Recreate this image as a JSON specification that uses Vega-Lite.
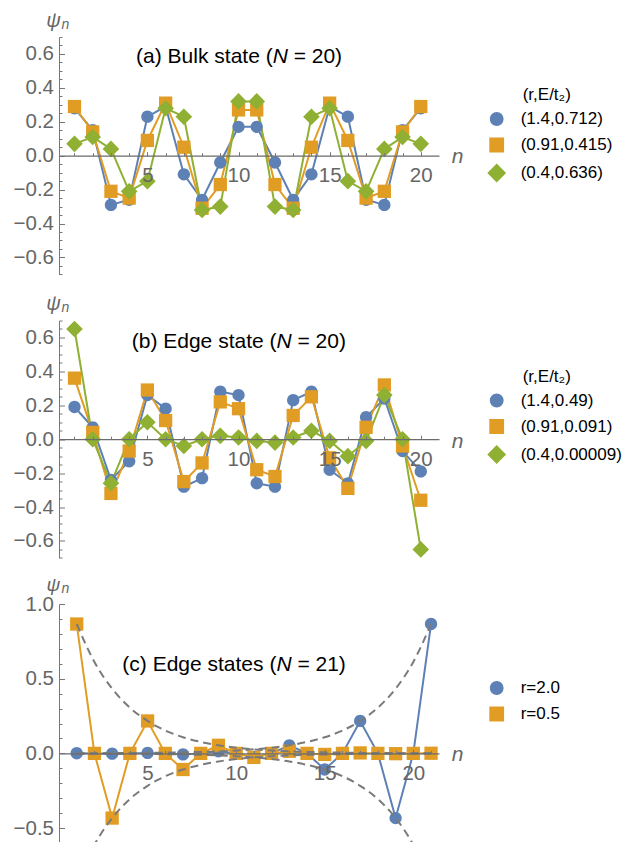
{
"$schema": "https://vega.github.io/schema/vega-lite/v6.json",
"padding": {"left": 13, "top": 10, "right": 175, "bottom": 0},
"bounds": "flush",
"spacing": 45.5,
"config": {"view": {"stroke": null}, "font": "Liberation Sans"},
"datasets": {
"a": [
{"n":1,"psi":0.28,"s":"(1.4,0.712)"},{"n":2,"psi":0.15,"s":"(1.4,0.712)"},{"n":3,"psi":-0.29,"s":"(1.4,0.712)"},{"n":4,"psi":-0.26,"s":"(1.4,0.712)"},{"n":5,"psi":0.23,"s":"(1.4,0.712)"},{"n":6,"psi":0.29,"s":"(1.4,0.712)"},{"n":7,"psi":-0.11,"s":"(1.4,0.712)"},{"n":8,"psi":-0.26,"s":"(1.4,0.712)"},{"n":9,"psi":-0.04,"s":"(1.4,0.712)"},{"n":10,"psi":0.17,"s":"(1.4,0.712)"},
{"n":11,"psi":0.17,"s":"(1.4,0.712)"},{"n":12,"psi":-0.04,"s":"(1.4,0.712)"},{"n":13,"psi":-0.26,"s":"(1.4,0.712)"},{"n":14,"psi":-0.11,"s":"(1.4,0.712)"},{"n":15,"psi":0.29,"s":"(1.4,0.712)"},{"n":16,"psi":0.23,"s":"(1.4,0.712)"},{"n":17,"psi":-0.26,"s":"(1.4,0.712)"},{"n":18,"psi":-0.29,"s":"(1.4,0.712)"},{"n":19,"psi":0.15,"s":"(1.4,0.712)"},{"n":20,"psi":0.28,"s":"(1.4,0.712)"},
{"n":1,"psi":0.29,"s":"(0.91,0.415)"},{"n":2,"psi":0.14,"s":"(0.91,0.415)"},{"n":3,"psi":-0.21,"s":"(0.91,0.415)"},{"n":4,"psi":-0.25,"s":"(0.91,0.415)"},{"n":5,"psi":0.09,"s":"(0.91,0.415)"},{"n":6,"psi":0.31,"s":"(0.91,0.415)"},{"n":7,"psi":0.05,"s":"(0.91,0.415)"},{"n":8,"psi":-0.31,"s":"(0.91,0.415)"},{"n":9,"psi":-0.17,"s":"(0.91,0.415)"},{"n":10,"psi":0.27,"s":"(0.91,0.415)"},
{"n":11,"psi":0.27,"s":"(0.91,0.415)"},{"n":12,"psi":-0.17,"s":"(0.91,0.415)"},{"n":13,"psi":-0.31,"s":"(0.91,0.415)"},{"n":14,"psi":0.05,"s":"(0.91,0.415)"},{"n":15,"psi":0.31,"s":"(0.91,0.415)"},{"n":16,"psi":0.09,"s":"(0.91,0.415)"},{"n":17,"psi":-0.25,"s":"(0.91,0.415)"},{"n":18,"psi":-0.21,"s":"(0.91,0.415)"},{"n":19,"psi":0.14,"s":"(0.91,0.415)"},{"n":20,"psi":0.29,"s":"(0.91,0.415)"},
{"n":1,"psi":0.07,"s":"(0.4,0.636)"},{"n":2,"psi":0.11,"s":"(0.4,0.636)"},{"n":3,"psi":0.04,"s":"(0.4,0.636)"},{"n":4,"psi":-0.21,"s":"(0.4,0.636)"},{"n":5,"psi":-0.15,"s":"(0.4,0.636)"},{"n":6,"psi":0.28,"s":"(0.4,0.636)"},{"n":7,"psi":0.23,"s":"(0.4,0.636)"},{"n":8,"psi":-0.32,"s":"(0.4,0.636)"},{"n":9,"psi":-0.3,"s":"(0.4,0.636)"},{"n":10,"psi":0.32,"s":"(0.4,0.636)"},
{"n":11,"psi":0.32,"s":"(0.4,0.636)"},{"n":12,"psi":-0.3,"s":"(0.4,0.636)"},{"n":13,"psi":-0.32,"s":"(0.4,0.636)"},{"n":14,"psi":0.23,"s":"(0.4,0.636)"},{"n":15,"psi":0.28,"s":"(0.4,0.636)"},{"n":16,"psi":-0.15,"s":"(0.4,0.636)"},{"n":17,"psi":-0.21,"s":"(0.4,0.636)"},{"n":18,"psi":0.04,"s":"(0.4,0.636)"},{"n":19,"psi":0.11,"s":"(0.4,0.636)"},{"n":20,"psi":0.07,"s":"(0.4,0.636)"}
],
"b": [
{"n":1,"psi":0.19,"s":"(1.4,0.49)"},{"n":2,"psi":0.07,"s":"(1.4,0.49)"},{"n":3,"psi":-0.24,"s":"(1.4,0.49)"},{"n":4,"psi":-0.13,"s":"(1.4,0.49)"},{"n":5,"psi":0.26,"s":"(1.4,0.49)"},{"n":6,"psi":0.18,"s":"(1.4,0.49)"},{"n":7,"psi":-0.28,"s":"(1.4,0.49)"},{"n":8,"psi":-0.23,"s":"(1.4,0.49)"},{"n":9,"psi":0.28,"s":"(1.4,0.49)"},{"n":10,"psi":0.26,"s":"(1.4,0.49)"},
{"n":11,"psi":-0.26,"s":"(1.4,0.49)"},{"n":12,"psi":-0.28,"s":"(1.4,0.49)"},{"n":13,"psi":0.23,"s":"(1.4,0.49)"},{"n":14,"psi":0.28,"s":"(1.4,0.49)"},{"n":15,"psi":-0.18,"s":"(1.4,0.49)"},{"n":16,"psi":-0.26,"s":"(1.4,0.49)"},{"n":17,"psi":0.13,"s":"(1.4,0.49)"},{"n":18,"psi":0.24,"s":"(1.4,0.49)"},{"n":19,"psi":-0.07,"s":"(1.4,0.49)"},{"n":20,"psi":-0.19,"s":"(1.4,0.49)"},
{"n":1,"psi":0.36,"s":"(0.91,0.091)"},{"n":2,"psi":0.04,"s":"(0.91,0.091)"},{"n":3,"psi":-0.32,"s":"(0.91,0.091)"},{"n":4,"psi":-0.07,"s":"(0.91,0.091)"},{"n":5,"psi":0.29,"s":"(0.91,0.091)"},{"n":6,"psi":0.11,"s":"(0.91,0.091)"},{"n":7,"psi":-0.25,"s":"(0.91,0.091)"},{"n":8,"psi":-0.14,"s":"(0.91,0.091)"},{"n":9,"psi":0.22,"s":"(0.91,0.091)"},{"n":10,"psi":0.18,"s":"(0.91,0.091)"},
{"n":11,"psi":-0.18,"s":"(0.91,0.091)"},{"n":12,"psi":-0.22,"s":"(0.91,0.091)"},{"n":13,"psi":0.14,"s":"(0.91,0.091)"},{"n":14,"psi":0.25,"s":"(0.91,0.091)"},{"n":15,"psi":-0.11,"s":"(0.91,0.091)"},{"n":16,"psi":-0.29,"s":"(0.91,0.091)"},{"n":17,"psi":0.07,"s":"(0.91,0.091)"},{"n":18,"psi":0.32,"s":"(0.91,0.091)"},{"n":19,"psi":-0.04,"s":"(0.91,0.091)"},{"n":20,"psi":-0.36,"s":"(0.91,0.091)"},
{"n":1,"psi":0.65,"s":"(0.4,0.00009)"},{"n":2,"psi":0.0,"s":"(0.4,0.00009)"},{"n":3,"psi":-0.26,"s":"(0.4,0.00009)"},{"n":4,"psi":0.0,"s":"(0.4,0.00009)"},{"n":5,"psi":0.1,"s":"(0.4,0.00009)"},{"n":6,"psi":0.0,"s":"(0.4,0.00009)"},{"n":7,"psi":-0.04,"s":"(0.4,0.00009)"},{"n":8,"psi":0.0,"s":"(0.4,0.00009)"},{"n":9,"psi":0.02,"s":"(0.4,0.00009)"},{"n":10,"psi":0.01,"s":"(0.4,0.00009)"},
{"n":11,"psi":-0.01,"s":"(0.4,0.00009)"},{"n":12,"psi":-0.02,"s":"(0.4,0.00009)"},{"n":13,"psi":0.01,"s":"(0.4,0.00009)"},{"n":14,"psi":0.05,"s":"(0.4,0.00009)"},{"n":15,"psi":-0.01,"s":"(0.4,0.00009)"},{"n":16,"psi":-0.1,"s":"(0.4,0.00009)"},{"n":17,"psi":-0.01,"s":"(0.4,0.00009)"},{"n":18,"psi":0.26,"s":"(0.4,0.00009)"},{"n":19,"psi":0.0,"s":"(0.4,0.00009)"},{"n":20,"psi":-0.65,"s":"(0.4,0.00009)"}
],
"c": [
{"n":1,"psi":0.001,"s":"r=2.0"},{"n":2,"psi":0,"s":"r=2.0"},{"n":3,"psi":-0.002,"s":"r=2.0"},{"n":4,"psi":0,"s":"r=2.0"},{"n":5,"psi":0.003,"s":"r=2.0"},{"n":6,"psi":0,"s":"r=2.0"},{"n":7,"psi":-0.007,"s":"r=2.0"},{"n":8,"psi":0,"s":"r=2.0"},{"n":9,"psi":0.014,"s":"r=2.0"},{"n":10,"psi":0,"s":"r=2.0"},{"n":11,"psi":-0.027,"s":"r=2.0"},
{"n":12,"psi":0,"s":"r=2.0"},{"n":13,"psi":0.054,"s":"r=2.0"},{"n":14,"psi":0,"s":"r=2.0"},{"n":15,"psi":-0.108,"s":"r=2.0"},{"n":16,"psi":0,"s":"r=2.0"},{"n":17,"psi":0.217,"s":"r=2.0"},{"n":18,"psi":0,"s":"r=2.0"},{"n":19,"psi":-0.433,"s":"r=2.0"},{"n":20,"psi":0,"s":"r=2.0"},{"n":21,"psi":0.866,"s":"r=2.0"},
{"n":1,"psi":0.866,"s":"r=0.5"},{"n":2,"psi":0,"s":"r=0.5"},{"n":3,"psi":-0.433,"s":"r=0.5"},{"n":4,"psi":0,"s":"r=0.5"},{"n":5,"psi":0.217,"s":"r=0.5"},{"n":6,"psi":0,"s":"r=0.5"},{"n":7,"psi":-0.108,"s":"r=0.5"},{"n":8,"psi":0,"s":"r=0.5"},{"n":9,"psi":0.054,"s":"r=0.5"},{"n":10,"psi":0,"s":"r=0.5"},{"n":11,"psi":-0.027,"s":"r=0.5"},
{"n":12,"psi":0,"s":"r=0.5"},{"n":13,"psi":0.014,"s":"r=0.5"},{"n":14,"psi":0,"s":"r=0.5"},{"n":15,"psi":-0.007,"s":"r=0.5"},{"n":16,"psi":0,"s":"r=0.5"},{"n":17,"psi":0.003,"s":"r=0.5"},{"n":18,"psi":0,"s":"r=0.5"},{"n":19,"psi":-0.002,"s":"r=0.5"},{"n":20,"psi":0,"s":"r=0.5"},{"n":21,"psi":0.001,"s":"r=0.5"}
],
"env": [
{"n":1,"psi":0.866,"curve":"UL"},{"n":2,"psi":0.612,"curve":"UL"},{"n":3,"psi":0.433,"curve":"UL"},{"n":4,"psi":0.306,"curve":"UL"},{"n":5,"psi":0.217,"curve":"UL"},{"n":6,"psi":0.153,"curve":"UL"},{"n":7,"psi":0.108,"curve":"UL"},{"n":8,"psi":0.077,"curve":"UL"},{"n":9,"psi":0.054,"curve":"UL"},{"n":10,"psi":0.038,"curve":"UL"},{"n":11,"psi":0.027,"curve":"UL"},{"n":12,"psi":0.019,"curve":"UL"},{"n":13,"psi":0.014,"curve":"UL"},{"n":14,"psi":0.01,"curve":"UL"},{"n":15,"psi":0.007,"curve":"UL"},{"n":16,"psi":0.005,"curve":"UL"},{"n":17,"psi":0.003,"curve":"UL"},{"n":18,"psi":0.002,"curve":"UL"},{"n":19,"psi":0.002,"curve":"UL"},{"n":20,"psi":0.001,"curve":"UL"},{"n":21,"psi":0.001,"curve":"UL"},
{"n":1,"psi":-0.866,"curve":"LL"},{"n":2,"psi":-0.612,"curve":"LL"},{"n":3,"psi":-0.433,"curve":"LL"},{"n":4,"psi":-0.306,"curve":"LL"},{"n":5,"psi":-0.217,"curve":"LL"},{"n":6,"psi":-0.153,"curve":"LL"},{"n":7,"psi":-0.108,"curve":"LL"},{"n":8,"psi":-0.077,"curve":"LL"},{"n":9,"psi":-0.054,"curve":"LL"},{"n":10,"psi":-0.038,"curve":"LL"},{"n":11,"psi":-0.027,"curve":"LL"},{"n":12,"psi":-0.019,"curve":"LL"},{"n":13,"psi":-0.014,"curve":"LL"},{"n":14,"psi":-0.01,"curve":"LL"},{"n":15,"psi":-0.007,"curve":"LL"},{"n":16,"psi":-0.005,"curve":"LL"},{"n":17,"psi":-0.003,"curve":"LL"},{"n":18,"psi":-0.002,"curve":"LL"},{"n":19,"psi":-0.002,"curve":"LL"},{"n":20,"psi":-0.001,"curve":"LL"},{"n":21,"psi":-0.001,"curve":"LL"},
{"n":1,"psi":0.001,"curve":"UR"},{"n":2,"psi":0.001,"curve":"UR"},{"n":3,"psi":0.002,"curve":"UR"},{"n":4,"psi":0.002,"curve":"UR"},{"n":5,"psi":0.003,"curve":"UR"},{"n":6,"psi":0.005,"curve":"UR"},{"n":7,"psi":0.007,"curve":"UR"},{"n":8,"psi":0.01,"curve":"UR"},{"n":9,"psi":0.014,"curve":"UR"},{"n":10,"psi":0.019,"curve":"UR"},{"n":11,"psi":0.027,"curve":"UR"},{"n":12,"psi":0.038,"curve":"UR"},{"n":13,"psi":0.054,"curve":"UR"},{"n":14,"psi":0.077,"curve":"UR"},{"n":15,"psi":0.108,"curve":"UR"},{"n":16,"psi":0.153,"curve":"UR"},{"n":17,"psi":0.217,"curve":"UR"},{"n":18,"psi":0.306,"curve":"UR"},{"n":19,"psi":0.433,"curve":"UR"},{"n":20,"psi":0.612,"curve":"UR"},{"n":21,"psi":0.866,"curve":"UR"},
{"n":1,"psi":-0.001,"curve":"LR"},{"n":2,"psi":-0.001,"curve":"LR"},{"n":3,"psi":-0.002,"curve":"LR"},{"n":4,"psi":-0.002,"curve":"LR"},{"n":5,"psi":-0.003,"curve":"LR"},{"n":6,"psi":-0.005,"curve":"LR"},{"n":7,"psi":-0.007,"curve":"LR"},{"n":8,"psi":-0.01,"curve":"LR"},{"n":9,"psi":-0.014,"curve":"LR"},{"n":10,"psi":-0.019,"curve":"LR"},{"n":11,"psi":-0.027,"curve":"LR"},{"n":12,"psi":-0.038,"curve":"LR"},{"n":13,"psi":-0.054,"curve":"LR"},{"n":14,"psi":-0.077,"curve":"LR"},{"n":15,"psi":-0.108,"curve":"LR"},{"n":16,"psi":-0.153,"curve":"LR"},{"n":17,"psi":-0.217,"curve":"LR"},{"n":18,"psi":-0.306,"curve":"LR"},{"n":19,"psi":-0.433,"curve":"LR"},{"n":20,"psi":-0.612,"curve":"LR"},{"n":21,"psi":-0.866,"curve":"LR"}
]
},
"resolve": {"scale": {"color": "independent", "shape": "independent", "x": "independent", "y": "independent"}, "legend": {"color": "independent", "shape": "independent"}},
"vconcat": [
{
"width": 380, "height": 237.4,
"resolve": {"axis": {"y": "independent", "x": "independent"}},
"layer": [
{"data": {"name": "a"}, "mark": {"type": "line", "strokeWidth": 2},
 "encoding": {
  "x": {"field": "n", "type": "quantitative", "scale": {"domain": [0.15, 21], "nice": false, "zero": false},
        "axis": {"orient": "bottom", "offset": -118.7, "values": [5, 10, 15, 20], "format": "d", "tickSize": -4, "tickColor": "#777777", "domainColor": "#6b6b6b", "domainWidth": 1.3, "labelColor": "#666666", "labelFont": "Liberation Sans", "labelFontSize": 20.5, "labelPadding": 14, "labelFlush": false, "labelOverlap": false, "grid": false, "zindex": 1,
                 "title": "n", "titleFont": "Liberation Sans", "titleFontSize": 21, "titleFontStyle": "italic", "titleFontWeight": "normal", "titleColor": "#666666", "titleAngle": 0, "titleAlign": "center", "titleBaseline": "middle", "titleX": 398, "titleY": 1}},
  "y": {"field": "psi", "type": "quantitative", "scale": {"domain": [-0.7, 0.7], "nice": false, "zero": false},
        "axis": {"orient": "left", "values": [-0.6,-0.4,-0.2,0,0.2,0.4,0.6], "format": ".1f", "tickSize": -5.5, "tickColor": "#777777", "domainColor": "#777777", "labelColor": "#666666", "labelFont": "Liberation Sans", "labelFontSize": 20.5, "labelPadding": 11, "labelFlush": false, "labelOverlap": false, "grid": false,
                 "title": "ψ", "titleFont": "Liberation Sans", "titleFontSize": 20, "titleFontStyle": "italic", "titleFontWeight": "normal", "titleColor": "#666666", "titleAngle": 0, "titleAlign": "center", "titleBaseline": "middle", "titleX": -6, "titleY": -17}},
  "color": {"field": "s", "type": "nominal", "scale": {"domain": ["(1.4,0.712)", "(0.91,0.415)", "(0.4,0.636)"], "range": ["#5E81B5", "#E19C24", "#8FB032"]},
    "legend": {"title": "(r,E/t₂)", "orient": "none", "legendX": 428.7, "legendY": 50, "padding": 0, "symbolSize": 256, "labelFont": "Liberation Sans", "labelFontSize": 17, "labelColor": "black", "titleFont": "Liberation Sans", "titleFontSize": 17, "titleFontWeight": "normal", "titleColor": "black", "labelOffset": 15, "rowPadding": 6, "titlePadding": 6,
      "encode": {"title": {"update": {"dx": {"value": 35}}}}}}
 }},
{"data": {"name": "a"}, "mark": {"type": "point", "filled": true, "opacity": 1, "size": 256},
 "encoding": {
  "x": {"field": "n", "type": "quantitative", "scale": {"domain": [0.15, 21], "nice": false, "zero": false},
        "axis": {"orient": "bottom", "offset": -118.7, "values": [1,2,3,4,6,7,8,9,11,12,13,14,16,17,18,19], "labels": false, "domain": false, "tickSize": -3, "tickColor": "#777777", "grid": false, "title": null, "zindex": 1}},
  "y": {"field": "psi", "type": "quantitative", "scale": {"domain": [-0.7, 0.7], "nice": false, "zero": false},
        "axis": {"orient": "left", "values": [-0.7,-0.65,-0.55,-0.5,-0.45,-0.35,-0.3,-0.25,-0.15,-0.1,-0.05,0.05,0.1,0.15,0.25,0.3,0.35,0.45,0.5,0.55,0.65,0.7], "labels": false, "domain": false, "tickSize": -3, "tickColor": "#777777", "grid": false,
                 "title": "n", "titleFont": "Liberation Sans", "titleFontSize": 14, "titleFontStyle": "italic", "titleFontWeight": "normal", "titleColor": "#666666", "titleAngle": 0, "titleAlign": "center", "titleBaseline": "middle", "titleX": 6, "titleY": -13}},
  "color": {"field": "s", "type": "nominal", "scale": {"domain": ["(1.4,0.712)", "(0.91,0.415)", "(0.4,0.636)"], "range": ["#5E81B5", "#E19C24", "#8FB032"]}},
  "shape": {"field": "s", "type": "nominal", "scale": {"domain": ["(1.4,0.712)", "(0.91,0.415)", "(0.4,0.636)"], "range": ["M-0.77 0A0.77 0.77 0 1 0 0.77 0A0.77 0.77 0 1 0 -0.77 0Z", "M-0.83 -0.83H0.83V0.83H-0.83Z", "M-1.04 0L0 -1.04L1.04 0L0 1.04Z"]}}
 }},
{"data": {"values": [{}]}, "mark": {"type": "text", "text": "(a) Bulk state (", "font": "Liberation Sans", "fontSize": 21, "align": "right", "baseline": "middle", "dx": -7.6, "color": "black"},
 "encoding": {"x": {"datum": 12.29, "type": "quantitative", "scale": {"domain": [0.15, 21], "nice": false, "zero": false}, "axis": null}, "y": {"datum": 0.58, "type": "quantitative", "scale": {"domain": [-0.7, 0.7], "nice": false, "zero": false}, "axis": null}}},
{"data": {"values": [{}]}, "mark": {"type": "text", "text": "N", "font": "Liberation Sans", "fontSize": 21, "fontStyle": "italic", "align": "center", "baseline": "middle", "color": "black"},
 "encoding": {"x": {"datum": 12.29, "type": "quantitative", "scale": {"domain": [0.15, 21], "nice": false, "zero": false}, "axis": null}, "y": {"datum": 0.58, "type": "quantitative", "scale": {"domain": [-0.7, 0.7], "nice": false, "zero": false}, "axis": null}}},
{"data": {"values": [{}]}, "mark": {"type": "text", "text": "= 20)", "font": "Liberation Sans", "fontSize": 21, "align": "left", "baseline": "middle", "dx": 13.4, "color": "black"},
 "encoding": {"x": {"datum": 12.29, "type": "quantitative", "scale": {"domain": [0.15, 21], "nice": false, "zero": false}, "axis": null}, "y": {"datum": 0.58, "type": "quantitative", "scale": {"domain": [-0.7, 0.7], "nice": false, "zero": false}, "axis": null}}}
]
},
{
"width": 380, "height": 237.4,
"resolve": {"axis": {"y": "independent", "x": "independent"}},
"layer": [
{"data": {"name": "b"}, "mark": {"type": "line", "strokeWidth": 2},
 "encoding": {
  "x": {"field": "n", "type": "quantitative", "scale": {"domain": [0.15, 21], "nice": false, "zero": false},
        "axis": {"orient": "bottom", "offset": -118.7, "values": [5, 10, 15, 20], "format": "d", "tickSize": -4, "tickColor": "#777777", "domainColor": "#6b6b6b", "domainWidth": 1.3, "labelColor": "#666666", "labelFont": "Liberation Sans", "labelFontSize": 20.5, "labelPadding": 14, "labelFlush": false, "labelOverlap": false, "grid": false, "zindex": 1,
                 "title": "n", "titleFont": "Liberation Sans", "titleFontSize": 21, "titleFontStyle": "italic", "titleFontWeight": "normal", "titleColor": "#666666", "titleAngle": 0, "titleAlign": "center", "titleBaseline": "middle", "titleX": 398, "titleY": 2}},
  "y": {"field": "psi", "type": "quantitative", "scale": {"domain": [-0.7, 0.7], "nice": false, "zero": false},
        "axis": {"orient": "left", "values": [-0.6,-0.4,-0.2,0,0.2,0.4,0.6], "format": ".1f", "tickSize": -5.5, "tickColor": "#777777", "domainColor": "#777777", "labelColor": "#666666", "labelFont": "Liberation Sans", "labelFontSize": 20.5, "labelPadding": 11, "labelFlush": false, "labelOverlap": false, "grid": false,
                 "title": "ψ", "titleFont": "Liberation Sans", "titleFontSize": 20, "titleFontStyle": "italic", "titleFontWeight": "normal", "titleColor": "#666666", "titleAngle": 0, "titleAlign": "center", "titleBaseline": "middle", "titleX": -6, "titleY": -17}},
  "color": {"field": "s", "type": "nominal", "scale": {"domain": ["(1.4,0.49)", "(0.91,0.091)", "(0.4,0.00009)"], "range": ["#5E81B5", "#E19C24", "#8FB032"]},
    "legend": {"title": "(r,E/t₂)", "orient": "none", "legendX": 428.7, "legendY": 48, "padding": 0, "symbolSize": 256, "labelFont": "Liberation Sans", "labelFontSize": 17, "labelColor": "black", "titleFont": "Liberation Sans", "titleFontSize": 17, "titleFontWeight": "normal", "titleColor": "black", "labelOffset": 15, "rowPadding": 6, "titlePadding": 6,
      "encode": {"title": {"update": {"dx": {"value": 35}}}}}}
 }},
{"data": {"name": "b"}, "mark": {"type": "point", "filled": true, "opacity": 1, "size": 256},
 "encoding": {
  "x": {"field": "n", "type": "quantitative", "scale": {"domain": [0.15, 21], "nice": false, "zero": false},
        "axis": {"orient": "bottom", "offset": -118.7, "values": [1,2,3,4,6,7,8,9,11,12,13,14,16,17,18,19], "labels": false, "domain": false, "tickSize": -3, "tickColor": "#777777", "grid": false, "title": null, "zindex": 1}},
  "y": {"field": "psi", "type": "quantitative", "scale": {"domain": [-0.7, 0.7], "nice": false, "zero": false},
        "axis": {"orient": "left", "values": [-0.7,-0.65,-0.55,-0.5,-0.45,-0.35,-0.3,-0.25,-0.15,-0.1,-0.05,0.05,0.1,0.15,0.25,0.3,0.35,0.45,0.5,0.55,0.65,0.7], "labels": false, "domain": false, "tickSize": -3, "tickColor": "#777777", "grid": false,
                 "title": "n", "titleFont": "Liberation Sans", "titleFontSize": 14, "titleFontStyle": "italic", "titleFontWeight": "normal", "titleColor": "#666666", "titleAngle": 0, "titleAlign": "center", "titleBaseline": "middle", "titleX": 6, "titleY": -13}},
  "color": {"field": "s", "type": "nominal", "scale": {"domain": ["(1.4,0.49)", "(0.91,0.091)", "(0.4,0.00009)"], "range": ["#5E81B5", "#E19C24", "#8FB032"]}},
  "shape": {"field": "s", "type": "nominal", "scale": {"domain": ["(1.4,0.49)", "(0.91,0.091)", "(0.4,0.00009)"], "range": ["M-0.77 0A0.77 0.77 0 1 0 0.77 0A0.77 0.77 0 1 0 -0.77 0Z", "M-0.83 -0.83H0.83V0.83H-0.83Z", "M-1.04 0L0 -1.04L1.04 0L0 1.04Z"]}}
 }},
{"data": {"values": [{}]}, "mark": {"type": "text", "text": "(b) Edge state (", "font": "Liberation Sans", "fontSize": 21, "align": "right", "baseline": "middle", "dx": -7.6, "color": "black"},
 "encoding": {"x": {"datum": 12.5, "type": "quantitative", "scale": {"domain": [0.15, 21], "nice": false, "zero": false}, "axis": null}, "y": {"datum": 0.576, "type": "quantitative", "scale": {"domain": [-0.7, 0.7], "nice": false, "zero": false}, "axis": null}}},
{"data": {"values": [{}]}, "mark": {"type": "text", "text": "N", "font": "Liberation Sans", "fontSize": 21, "fontStyle": "italic", "align": "center", "baseline": "middle", "color": "black"},
 "encoding": {"x": {"datum": 12.5, "type": "quantitative", "scale": {"domain": [0.15, 21], "nice": false, "zero": false}, "axis": null}, "y": {"datum": 0.576, "type": "quantitative", "scale": {"domain": [-0.7, 0.7], "nice": false, "zero": false}, "axis": null}}},
{"data": {"values": [{}]}, "mark": {"type": "text", "text": "= 20)", "font": "Liberation Sans", "fontSize": 21, "align": "left", "baseline": "middle", "dx": 13.4, "color": "black"},
 "encoding": {"x": {"datum": 12.5, "type": "quantitative", "scale": {"domain": [0.15, 21], "nice": false, "zero": false}, "axis": null}, "y": {"datum": 0.576, "type": "quantitative", "scale": {"domain": [-0.7, 0.7], "nice": false, "zero": false}, "axis": null}}}
]
},
{
"width": 380, "height": 239,
"resolve": {"axis": {"y": "independent", "x": "independent"}},
"layer": [
{"data": {"name": "c"}, "mark": {"type": "line", "strokeWidth": 2},
 "encoding": {
  "x": {"field": "n", "type": "quantitative", "scale": {"domain": [0, 21.45], "nice": false, "zero": false},
        "axis": {"orient": "bottom", "offset": -89.6, "values": [5, 10, 15, 20], "format": "d", "tickSize": -4, "tickColor": "#777777", "domainColor": "#6b6b6b", "domainWidth": 1.3, "labelColor": "#666666", "labelFont": "Liberation Sans", "labelFontSize": 20.5, "labelPadding": 14, "labelFlush": false, "labelOverlap": false, "grid": false, "zindex": 1,
                 "title": "n", "titleFont": "Liberation Sans", "titleFontSize": 21, "titleFontStyle": "italic", "titleFontWeight": "normal", "titleColor": "#666666", "titleAngle": 0, "titleAlign": "center", "titleBaseline": "middle", "titleX": 398, "titleY": 1}},
  "y": {"field": "psi", "type": "quantitative", "scale": {"domain": [-0.6, 1.0], "nice": false, "zero": false},
        "axis": {"orient": "left", "values": [-0.5, 0, 0.5, 1.0], "format": ".1f", "tickSize": -5.5, "tickColor": "#777777", "domainColor": "#777777", "labelColor": "#666666", "labelFont": "Liberation Sans", "labelFontSize": 20.5, "labelPadding": 11, "labelFlush": false, "labelOverlap": false, "grid": false,
                 "title": "ψ", "titleFont": "Liberation Sans", "titleFontSize": 19, "titleFontStyle": "italic", "titleFontWeight": "normal", "titleColor": "#666666", "titleAngle": 0, "titleAlign": "center", "titleBaseline": "middle", "titleX": -6, "titleY": -19.5}},
  "color": {"field": "s", "type": "nominal", "scale": {"domain": ["r=2.0", "r=0.5"], "range": ["#5E81B5", "#E19C24"]},
    "legend": {"title": null, "orient": "none", "legendX": 428.7, "legendY": 75, "padding": 0, "symbolSize": 256, "labelFont": "Liberation Sans", "labelFontSize": 17, "labelColor": "black", "labelOffset": 15, "rowPadding": 6}}
 }},
{"data": {"name": "c"}, "mark": {"type": "point", "filled": true, "opacity": 1, "size": 256},
 "encoding": {
  "x": {"field": "n", "type": "quantitative", "scale": {"domain": [0, 21.45], "nice": false, "zero": false},
        "axis": {"orient": "bottom", "offset": -89.6, "values": [1,2,3,4,6,7,8,9,11,12,13,14,16,17,18,19,21], "labels": false, "domain": false, "tickSize": -3, "tickColor": "#777777", "grid": false, "title": null, "zindex": 1}},
  "y": {"field": "psi", "type": "quantitative", "scale": {"domain": [-0.6, 1.0], "nice": false, "zero": false},
        "axis": {"orient": "left", "values": [-0.6,-0.4,-0.3,-0.2,-0.1,0.1,0.2,0.3,0.4,0.6,0.7,0.8,0.9], "labels": false, "domain": false, "tickSize": -3, "tickColor": "#777777", "grid": false,
                 "title": "n", "titleFont": "Liberation Sans", "titleFontSize": 14, "titleFontStyle": "italic", "titleFontWeight": "normal", "titleColor": "#666666", "titleAngle": 0, "titleAlign": "center", "titleBaseline": "middle", "titleX": 6, "titleY": -15.5}},
  "color": {"field": "s", "type": "nominal", "scale": {"domain": ["r=2.0", "r=0.5"], "range": ["#5E81B5", "#E19C24"]}},
  "shape": {"field": "s", "type": "nominal", "scale": {"domain": ["r=2.0", "r=0.5"], "range": ["M-0.77 0A0.77 0.77 0 1 0 0.77 0A0.77 0.77 0 1 0 -0.77 0Z", "M-0.83 -0.83H0.83V0.83H-0.83Z"]}}
 }},
{"data": {"name": "env"}, "mark": {"type": "line", "strokeWidth": 2, "strokeDash": [8, 5], "color": "#7a7a7a", "interpolate": "monotone", "clip": true},
 "encoding": {
  "x": {"field": "n", "type": "quantitative", "scale": {"domain": [0, 21.45], "nice": false, "zero": false}, "axis": null},
  "y": {"field": "psi", "type": "quantitative", "scale": {"domain": [-0.6, 1.0], "nice": false, "zero": false}, "axis": null},
  "detail": {"field": "curve", "type": "nominal"}
 }},
{"data": {"values": [{}]}, "mark": {"type": "text", "text": "(c) Edge states (", "font": "Liberation Sans", "fontSize": 21, "align": "right", "baseline": "middle", "dx": -7.6, "color": "black"},
 "encoding": {"x": {"datum": 12.7, "type": "quantitative", "scale": {"domain": [0, 21.45], "nice": false, "zero": false}, "axis": null}, "y": {"datum": 0.592, "type": "quantitative", "scale": {"domain": [-0.6, 1.0], "nice": false, "zero": false}, "axis": null}}},
{"data": {"values": [{}]}, "mark": {"type": "text", "text": "N", "font": "Liberation Sans", "fontSize": 21, "fontStyle": "italic", "align": "center", "baseline": "middle", "color": "black"},
 "encoding": {"x": {"datum": 12.7, "type": "quantitative", "scale": {"domain": [0, 21.45], "nice": false, "zero": false}, "axis": null}, "y": {"datum": 0.592, "type": "quantitative", "scale": {"domain": [-0.6, 1.0], "nice": false, "zero": false}, "axis": null}}},
{"data": {"values": [{}]}, "mark": {"type": "text", "text": "= 21)", "font": "Liberation Sans", "fontSize": 21, "align": "left", "baseline": "middle", "dx": 13.4, "color": "black"},
 "encoding": {"x": {"datum": 12.7, "type": "quantitative", "scale": {"domain": [0, 21.45], "nice": false, "zero": false}, "axis": null}, "y": {"datum": 0.592, "type": "quantitative", "scale": {"domain": [-0.6, 1.0], "nice": false, "zero": false}, "axis": null}}}
]
}
]
}
